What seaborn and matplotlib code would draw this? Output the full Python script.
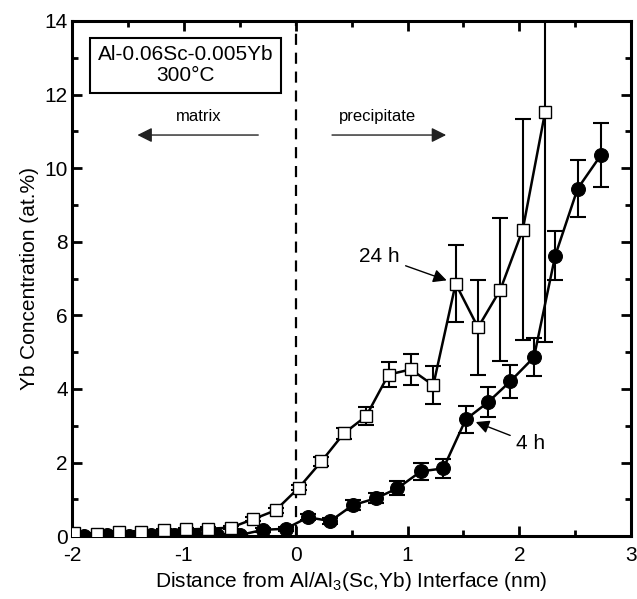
import pandas as pd
import seaborn as sns
import matplotlib.pyplot as plt
from matplotlib.ticker import MultipleLocator

# 4 h data (filled circles)
x_4h = [-1.89, -1.69, -1.49, -1.29, -1.09, -0.90, -0.70, -0.50, -0.29, -0.09,
        0.11, 0.31, 0.51, 0.72, 0.91, 1.12, 1.32, 1.52, 1.72, 1.92,
        2.13, 2.32, 2.52, 2.73]
y_4h = [0.0, 0.02, 0.0, 0.03, 0.02, 0.02, 0.03, 0.03, 0.17, 0.2,
        0.51, 0.41, 0.84, 1.03, 1.30, 1.76, 1.84, 3.17, 3.64, 4.21,
        4.86, 7.62, 9.44, 10.36]
err_4h = [0.02, 0.02, 0.02, 0.02, 0.02, 0.02, 0.02, 0.03, 0.05, 0.05,
          0.08, 0.08, 0.14, 0.14, 0.19, 0.23, 0.26, 0.36, 0.40, 0.45,
          0.52, 0.67, 0.78, 0.87]

# 24 h data (open squares)
x_24h = [-1.98, -1.78, -1.58, -1.38, -1.18, -0.98, -0.78, -0.58, -0.38, -0.18,
         0.03, 0.23, 0.43, 0.63, 0.83, 1.03, 1.23, 1.43, 1.63, 1.83,
         2.03, 2.23]
y_24h = [0.08, 0.05, 0.1, 0.1, 0.16, 0.18, 0.2, 0.23, 0.46, 0.7,
         1.32, 2.03, 2.79, 3.26, 4.39, 4.53, 4.10, 6.86, 5.67, 6.70,
         8.33, 11.53]
err_24h = [0.03, 0.03, 0.03, 0.03, 0.03, 0.04, 0.04, 0.04, 0.05, 0.06,
           0.08, 0.12, 0.15, 0.25, 0.35, 0.42, 0.52, 1.04, 1.3, 1.95,
           3.0, 6.26]

df4 = pd.DataFrame({"x": x_4h, "y": y_4h})
df24 = pd.DataFrame({"x": x_24h, "y": y_24h})

sns.set_theme(style="ticks")
plt.rcParams["font.family"] = ["Liberation Sans", "DejaVu Sans"]
plt.rcParams["mathtext.fontset"] = "custom"
plt.rcParams["mathtext.rm"] = "Liberation Sans"
plt.rcParams["mathtext.it"] = "Liberation Sans:italic"
plt.rcParams["axes.unicode_minus"] = False
plt.rcParams["text.color"] = "black"
plt.rcParams["axes.labelcolor"] = "black"

fig = plt.figure(figsize=(6.37, 5.99), dpi=100)
ax = fig.add_axes([0.113, 0.105, 0.878, 0.86])

ax.axvline(0, color="black", lw=1.6, ls=(0, (5, 3.5)), zorder=1)

# error bars
ax.errorbar(x_24h, y_24h, yerr=err_24h, fmt="none", ecolor="black",
            elinewidth=1.5, capsize=5.5, capthick=1.5, zorder=2)
ax.errorbar(x_4h, y_4h, yerr=err_4h, fmt="none", ecolor="black",
            elinewidth=1.5, capsize=5.5, capthick=1.5, zorder=2)

sns.lineplot(data=df4, x="x", y="y", ax=ax, color="black", lw=1.8,
             marker="o", markersize=10, markerfacecolor="black",
             markeredgecolor="black", zorder=3)
sns.lineplot(data=df24, x="x", y="y", ax=ax, color="black", lw=1.8,
             marker="s", markersize=8.5, markerfacecolor="white",
             markeredgecolor="black", markeredgewidth=1.0, zorder=4)

ax.set_xlim(-2, 3)
ax.set_ylim(0, 14)
ax.xaxis.set_major_locator(MultipleLocator(1))
ax.xaxis.set_minor_locator(MultipleLocator(0.5))
ax.yaxis.set_major_locator(MultipleLocator(2))
ax.yaxis.set_minor_locator(MultipleLocator(1))
ax.tick_params(which="both", direction="in", top=True, right=True,
               labelsize=15, width=2, colors="black")
ax.tick_params(which="major", length=7.5)
ax.tick_params(which="minor", length=4.5)
ax.tick_params(axis="x", which="major", pad=7)
ax.tick_params(axis="y", which="major", pad=3)
for s in ax.spines.values():
    s.set_linewidth(2.2)
    s.set_color("black")

ax.set_xlabel("Distance from Al/Al$_3$(Sc,Yb) Interface (nm)", fontsize=15,
              labelpad=4)
ax.set_ylabel("Yb Concentration (at.%)", fontsize=15, labelpad=4)

# alloy box
ax.text(-0.985, 12.8, "Al-0.06Sc-0.005Yb\n300°C", fontsize=15,
        ha="center", va="center", linespacing=1.15,
        bbox=dict(boxstyle="square,pad=0.35", fc="white", ec="black", lw=1.5))

# region arrows
ax.text(-0.87, 11.4, "matrix", fontsize=12, ha="center", va="center")
ax.annotate("", xy=(-1.44, 10.9), xytext=(-0.31, 10.9),
            arrowprops=dict(arrowstyle="-|>", color="#222222", lw=1,
                            mutation_scale=22))
ax.text(0.73, 11.4, "precipitate", fontsize=12, ha="center", va="center")
ax.annotate("", xy=(1.37, 10.9), xytext=(0.30, 10.9),
            arrowprops=dict(arrowstyle="-|>", color="#222222", lw=1,
                            mutation_scale=22))

# series labels
ax.annotate("24 h", xy=(1.35, 6.95), xytext=(0.93, 7.6), fontsize=15,
            ha="right", va="center",
            arrowprops=dict(arrowstyle="-|>", color="black", lw=1,
                            mutation_scale=20, shrinkA=2, shrinkB=0))
ax.annotate("4 h", xy=(1.61, 3.1), xytext=(1.97, 2.52), fontsize=15,
            ha="left", va="center",
            arrowprops=dict(arrowstyle="-|>", color="black", lw=1,
                            mutation_scale=20, shrinkA=2, shrinkB=0))

fig.savefig("out.png", dpi=100)
